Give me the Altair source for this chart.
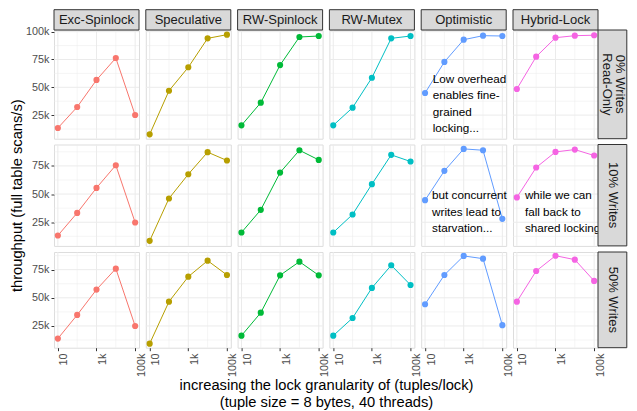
import altair as alt
import pandas as pd

FONT = "Liberation Sans"

locks = ["Exc-Spinlock", "Speculative", "RW-Spinlock", "RW-Mutex", "Optimistic", "Hybrid-Lock"]
workloads = [["0% Writes", "Read-Only"], ["10% Writes"], ["50% Writes"]]
granularity = [10, 100, 1000, 10000, 100000]
colors = ["#F8766D", "#B79F00", "#00BA38", "#00BFC4", "#619CFF", "#F564E3"]

# throughput (full table scans/s), one list per lock, values at each granularity
read_only = {
    "Exc-Spinlock": [13400, 32300, 56600, 76300, 25100],
    "Speculative":  [7700, 46900, 68000, 94000, 97300],
    "RW-Spinlock":  [15800, 36200, 70000, 95200, 96100],
    "RW-Mutex":     [15800, 31700, 58600, 94000, 96100],
    "Optimistic":   [44900, 72800, 92800, 96400, 96100],
    "Hybrid-Lock":  [48500, 77500, 94600, 96400, 96800],
}
writes_10 = {
    "Exc-Spinlock": [13200, 33300, 55500, 75600, 24800],
    "Speculative":  [8500, 46100, 67600, 87200, 79800],
    "RW-Spinlock":  [15900, 36000, 69100, 88900, 80300],
    "RW-Mutex":     [15900, 31900, 58800, 84800, 78900],
    "Optimistic":   [44600, 70600, 90100, 88900, 28000],
    "Hybrid-Lock":  [47000, 73600, 87400, 89500, 84200],
}
writes_50 = {
    "Exc-Spinlock": [13800, 34800, 57300, 75900, 25000],
    "Speculative":  [9300, 46600, 68800, 83000, 70300],
    "RW-Spinlock":  [16400, 36800, 70000, 82100, 70000],
    "RW-Mutex":     [16400, 32100, 58800, 78900, 61400],
    "Optimistic":   [44300, 70300, 87200, 84800, 25700],
    "Hybrid-Lock":  [46600, 73800, 87400, 83900, 65000],
}
series = [read_only, writes_10, writes_50]

y_domains = [[3800, 101500], [4000, 94000], [5700, 90700]]
x_domain = [10 ** 0.8, 10 ** 5.2]
x_major = [10, 1000, 100000]
x_minor = [100, 10000]
y_major = [25000, 50000, 75000, 100000]
y_minor = [12500, 37500, 62500, 87500]

notes = [
    (0, 4, 25, 62000, "Low overhead\nenables fine-\ngrained\nlocking..."),
    (1, 4, 23, 53500, "but concurrent\nwrites lead to\nstarvation..."),
    (1, 5, 26, 53500, "while we can\nfall back to\nshared locking"),
]

x_title = ["increasing the lock granularity of (tuples/lock)",
           "(tuple size = 8 bytes, 40 threads)"]
y_title = "throughput (full table scans/s)"

W = 85
GAP = 6.8
heights = [108.7, 101.4, 95.7]
STRIP_H = 20.3
STRIP_W = 28.8
GRID = "#EBEBEB"


def x_axis(r, c):
    if r != 2:
        return None
    kw = dict(values=x_major, format="~s", grid=False, domain=False, ticks=True,
              tickSize=3, tickColor="#333333", tickWidth=1, labelColor="#4D4D4D",
              labelFontSize=10.8, labelFont=FONT, labelAngle=270, labelAlign="right",
              labelBaseline="top", labelPadding=2.3, labelFlush=False, labelOverlap=False)
    if c == 0:
        kw.update(title=x_title, titleX=(6 * W + 5 * GAP) / 2, titleY=30, titleBaseline="top",
                  titleAlign="center", titleFontSize=14.7, titleFontWeight="normal",
                  titleFont=FONT, titleColor="#000000", titleLineHeight=17)
    else:
        kw["title"] = None
    return alt.Axis(**kw)


def y_axis(r, c):
    if c != 0:
        return None
    lo, hi = y_domains[r]
    vals = [v for v in y_major if lo <= v <= hi]
    kw = dict(values=vals, format="~s", grid=False, domain=False, ticks=True,
              tickSize=3, tickColor="#333333", tickWidth=1, labelColor="#4D4D4D",
              labelFontSize=10.8, labelFont=FONT, labelPadding=2, labelFlush=False,
              labelOverlap=False)
    if r == 1:
        kw.update(title=y_title, titleX=-36.8, titleY=heights[1] / 2, titleAngle=270,
                  titleBaseline="middle", titleAlign="center", titleFontSize=14.7,
                  titleFontWeight="normal", titleFont=FONT, titleColor="#000000")
    else:
        kw["title"] = None
    return alt.Axis(**kw)


def panel(r, c):
    lock = locks[c]
    h = heights[r]
    lo, hi = y_domains[r]
    xs = alt.Scale(type="log", domain=x_domain, nice=False)
    ys = alt.Scale(domain=[lo, hi], nice=False, zero=False)
    X = alt.X("x:Q", scale=xs, axis=x_axis(r, c))
    Y = alt.Y("y:Q", scale=ys, axis=y_axis(r, c))

    gx = pd.DataFrame({"x": x_major + x_minor,
                       "w": [1.0] * len(x_major) + [0.5] * len(x_minor)})
    yvals = [v for v in y_major if lo <= v <= hi] + [v for v in y_minor if lo <= v <= hi]
    ywid = [1.0 if v in y_major else 0.5 for v in yvals]
    gy = pd.DataFrame({"y": yvals, "w": ywid})

    layers = [
        alt.Chart(gx).mark_rule(color=GRID).encode(
            x=X, strokeWidth=alt.StrokeWidth("w:Q", scale=None, legend=None)),
        alt.Chart(gy).mark_rule(color=GRID).encode(
            y=Y, strokeWidth=alt.StrokeWidth("w:Q", scale=None, legend=None)),
    ]
    df = pd.DataFrame({"x": granularity, "y": series[r][lock]})
    layers.append(alt.Chart(df).mark_line(color=colors[c], strokeWidth=1).encode(x=X, y=Y))
    layers.append(alt.Chart(df).mark_circle(color=colors[c], size=38, opacity=1).encode(x=X, y=Y))

    for (nr, nc, nx, ny, ntext) in notes:
        if nr == r and nc == c:
            nd = pd.DataFrame({"x": [nx], "y": [ny], "t": [ntext]})
            layers.append(alt.Chart(nd).mark_text(
                font=FONT, fontSize=11.7, color="#000000", align="left", baseline="top",
                lineBreak="\n", lineHeight=16.5).encode(x=X, y=Y, text="t:N"))

    if r == 0:
        sd = pd.DataFrame({"label": [lock]})
        layers.append(alt.Chart(sd).mark_rect(fill="#D9D9D9", stroke="#333333", strokeWidth=1).encode(
            x=alt.value(0), x2=alt.value(W), y=alt.value(-STRIP_H), y2=alt.value(0)))
        layers.append(alt.Chart(sd).mark_text(
            font=FONT, fontSize=13, color="#1A1A1A", baseline="middle", align="center").encode(
            x=alt.value(W / 2), y=alt.value(-STRIP_H / 2), text="label:N"))

    if c == 5:
        lines = workloads[r]
        rd = pd.DataFrame({"label": [" ".join(lines)]})
        layers.append(alt.Chart(rd).mark_rect(fill="#D9D9D9", stroke="#333333", strokeWidth=1).encode(
            x=alt.value(W), x2=alt.value(W + STRIP_W), y=alt.value(0), y2=alt.value(h)))
        n = len(lines)
        for i, line in enumerate(lines):
            # first line outermost (right), following lines to its left
            xpos = W + 15.3 + (n - 1) * 6.5 - i * 13
            ld = pd.DataFrame({"label": [line]})
            layers.append(alt.Chart(ld).mark_text(
                font=FONT, fontSize=13, color="#1A1A1A", angle=90, align="center",
                baseline="middle").encode(
                x=alt.value(xpos), y=alt.value(h / 2), text="label:N"))

    return alt.layer(*layers).properties(width=W, height=h)


panels = [panel(r, c) for r in range(3) for c in range(6)]

chart = alt.concat(*panels, columns=6, spacing={"row": 5.5, "column": GAP},
                   bounds="flush").properties(
    padding=0, background="white"
).configure_view(stroke="#333333", strokeWidth=1, fill="white").configure(font=FONT)

chart.save("out.html", embed_options={"renderer": "svg", "actions": False})
